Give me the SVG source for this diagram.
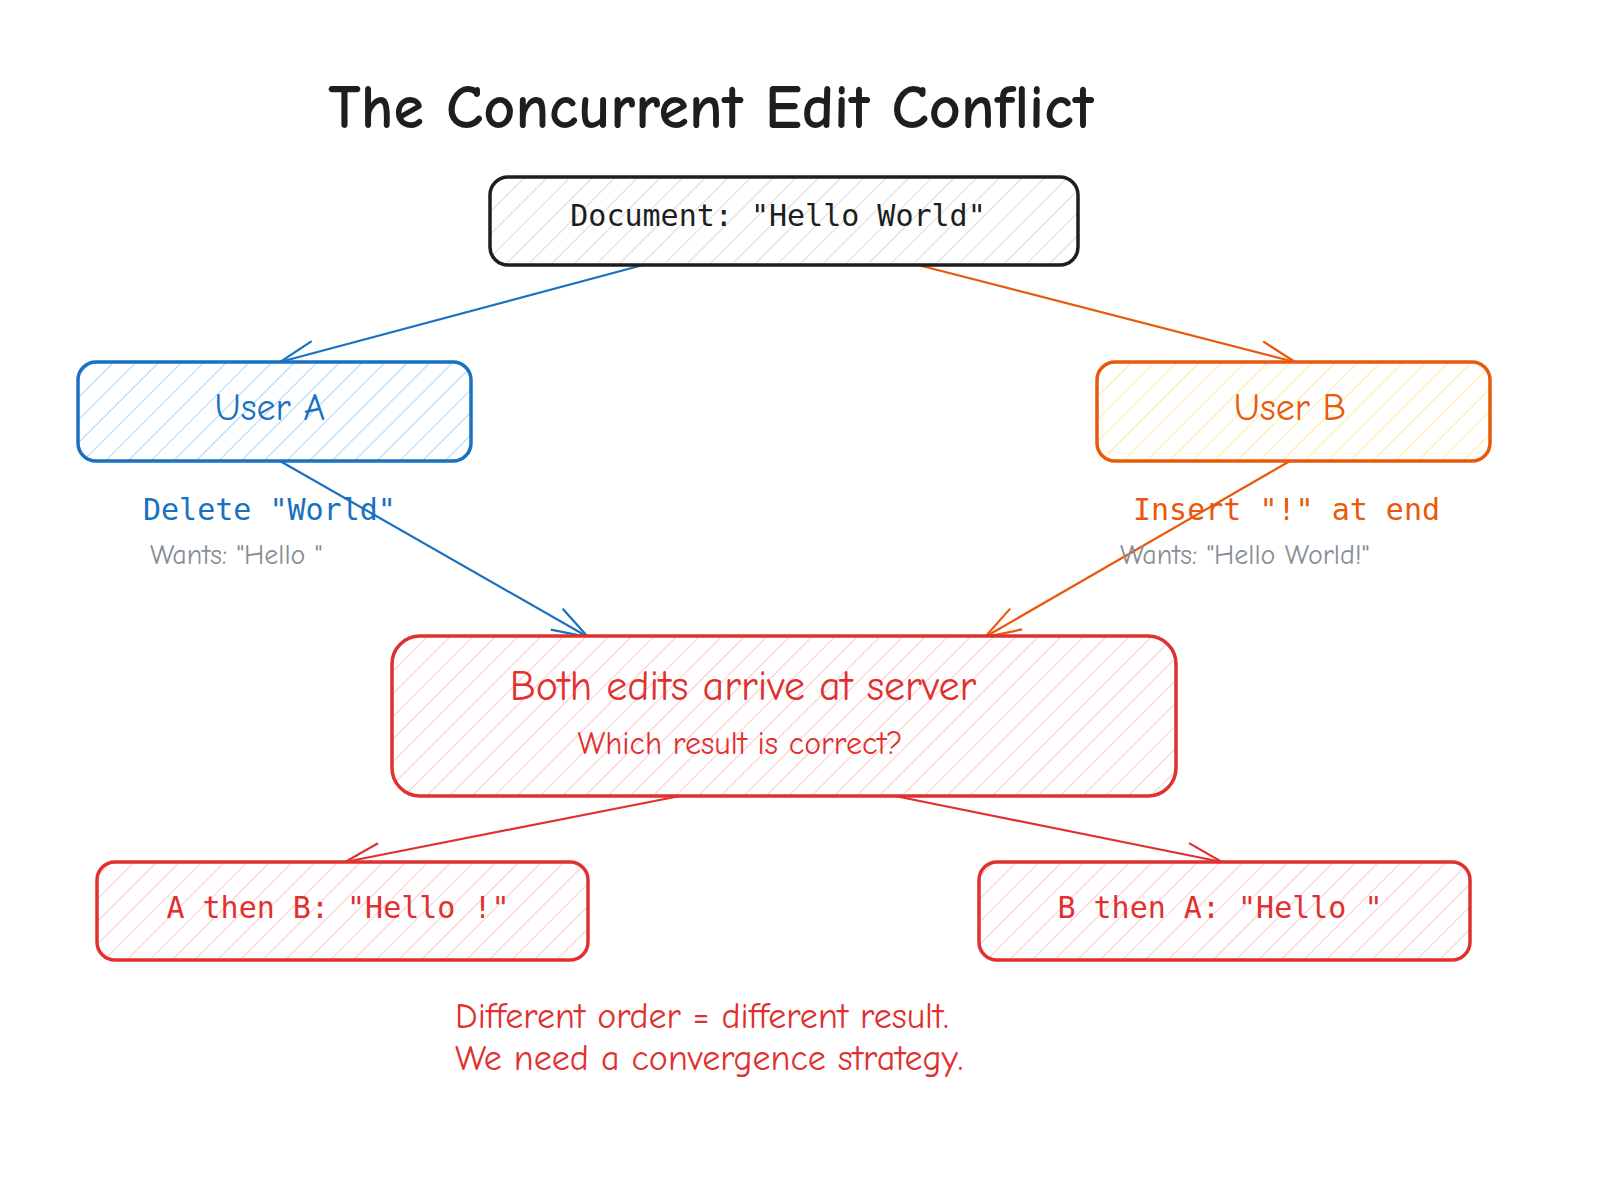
<svg xmlns="http://www.w3.org/2000/svg" width="1600" height="1180" viewBox="0 0 1600 1180">
<style>
.hand{font-family:"Comic Neue","Liberation Sans",sans-serif}
.mono{font-family:"DejaVu Sans Mono","Liberation Mono",monospace}
.box{stroke-width:3.5}
.conn{fill:none;stroke-width:2.2}
</style>
<defs>
<pattern id="hg" width="16" height="16" patternUnits="userSpaceOnUse" patternTransform="rotate(45)"><rect width="16" height="16" fill="#fff"/><line x1="0" y1="0" x2="0" y2="16" stroke="#d0d0d0" stroke-width="1.5"/></pattern>
<pattern id="hb" width="16" height="16" patternUnits="userSpaceOnUse" patternTransform="rotate(45)"><rect width="16" height="16" fill="#fff"/><line x1="0" y1="0" x2="0" y2="16" stroke="#a5d8ff" stroke-width="2"/></pattern>
<pattern id="hy" width="16" height="16" patternUnits="userSpaceOnUse" patternTransform="rotate(45)"><rect width="16" height="16" fill="#fff"/><line x1="0" y1="0" x2="0" y2="16" stroke="#ffec99" stroke-width="2"/></pattern>
<pattern id="hr" width="16" height="16" patternUnits="userSpaceOnUse" patternTransform="rotate(45)"><rect width="16" height="16" fill="#fff"/><line x1="0" y1="0" x2="0" y2="16" stroke="#ffc9c9" stroke-width="2"/></pattern>
<marker id="ab" viewBox="0 0 40 40" refX="38" refY="20" markerWidth="40" markerHeight="40" markerUnits="userSpaceOnUse" orient="auto"><path d="M2,8 L38,20 L2,32" fill="none" stroke="#1971c2" stroke-width="2.2"/></marker>
<marker id="ao" viewBox="0 0 40 40" refX="38" refY="20" markerWidth="40" markerHeight="40" markerUnits="userSpaceOnUse" orient="auto"><path d="M2,8 L38,20 L2,32" fill="none" stroke="#e8590c" stroke-width="2.2"/></marker>
<marker id="ar" viewBox="0 0 40 40" refX="38" refY="20" markerWidth="40" markerHeight="40" markerUnits="userSpaceOnUse" orient="auto"><path d="M2,8 L38,20 L2,32" fill="none" stroke="#e03131" stroke-width="2.2"/></marker>
</defs>
<rect width="1600" height="1180" fill="#fff"/>
<text class="hand" x="711" y="128" font-size="62" font-weight="bold" text-anchor="middle" fill="#1e1e1e">The Concurrent Edit Conflict</text>
<g id="connectors">
<path class="conn" stroke="#1971c2" d="M643,265 L280,362" marker-end="url(#ab)"/>
<path class="conn" stroke="#e8590c" d="M918,265 L1295,362" marker-end="url(#ao)"/>
<path class="conn" stroke="#1971c2" d="M280,461 L588,637" marker-end="url(#ab)"/>
<path class="conn" stroke="#e8590c" d="M1290,461 L985,637" marker-end="url(#ao)"/>
<path class="conn" stroke="#e03131" d="M680,796 L345,862" marker-end="url(#ar)"/>
<path class="conn" stroke="#e03131" d="M895,796 L1222,862" marker-end="url(#ar)"/>
</g>
<g id="doc"><rect class="box" x="490" y="177" width="588" height="88" rx="18" fill="url(#hg)" stroke="#1e1e1e"/>
<text class="mono" x="778" y="226" font-size="30" text-anchor="middle" fill="#1e1e1e">Document: "Hello World"</text></g>
<g id="userA"><rect class="box" x="78" y="362" width="393" height="99" rx="18" fill="url(#hb)" stroke="#1971c2"/>
<text class="hand" x="270" y="420" font-size="38" text-anchor="middle" fill="#1971c2">User A</text></g>
<g id="userB"><rect class="box" x="1097" y="362" width="393" height="99" rx="18" fill="url(#hy)" stroke="#e8590c"/>
<text class="hand" x="1290" y="420" font-size="38" text-anchor="middle" fill="#e8590c">User B</text></g>
<g id="labelA"><text class="mono" x="143" y="520" font-size="30" fill="#1971c2">Delete "World"</text>
<text class="hand" x="150" y="564" font-size="28" fill="#868e96">Wants: "Hello "</text></g>
<g id="labelB"><text class="mono" x="1133" y="520" font-size="30" fill="#e8590c">Insert "!" at end</text>
<text class="hand" x="1120" y="564" font-size="28" fill="#868e96">Wants: "Hello World!"</text></g>
<g id="server"><rect class="box" x="392" y="636" width="784" height="160" rx="28" fill="url(#hr)" stroke="#e03131"/>
<text class="hand" x="743" y="700" font-size="42" text-anchor="middle" fill="#e03131">Both edits arrive at server</text>
<text class="hand" x="740" y="754" font-size="32" text-anchor="middle" fill="#e03131">Which result is correct?</text></g>
<g id="aThenB"><rect class="box" x="97" y="862" width="491" height="98" rx="18" fill="url(#hr)" stroke="#e03131"/>
<text class="mono" x="338" y="918" font-size="30" text-anchor="middle" fill="#e03131">A then B: "Hello !"</text></g>
<g id="bThenA"><rect class="box" x="979" y="862" width="491" height="98" rx="18" fill="url(#hr)" stroke="#e03131"/>
<text class="mono" x="1220" y="918" font-size="30" text-anchor="middle" fill="#e03131">B then A: "Hello "</text></g>
<g id="footer"><text class="hand" x="455" y="1028" font-size="36" fill="#e03131">Different order = different result.</text>
<text class="hand" x="455" y="1070" font-size="36" fill="#e03131">We need a convergence strategy.</text></g>
</svg>
